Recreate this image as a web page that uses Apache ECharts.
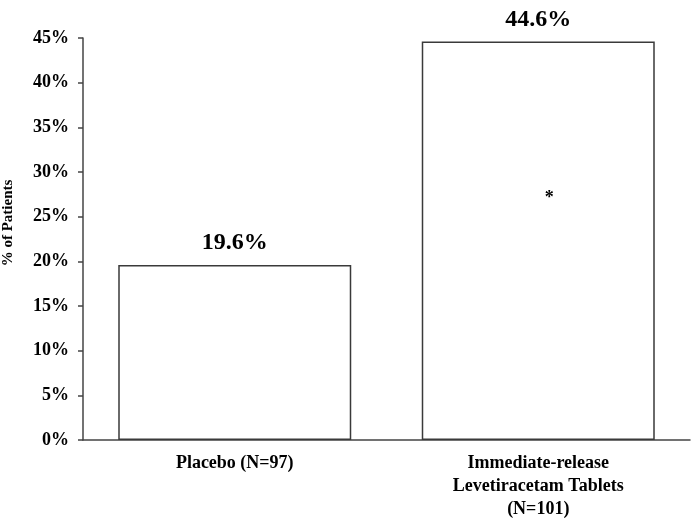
<!DOCTYPE html>
<html><head><meta charset="utf-8">
<script src="https://cdn.jsdelivr.net/npm/echarts@6/dist/echarts.min.js"></script>
<style>html,body{margin:0;padding:0;background:#fff}#c{width:695px;height:520px}</style>
</head><body><div id="c"></div>
<script>
const categories = ['Placebo (N=97)', 'Immediate-release\nLevetiracetam Tablets\n(N=101)'];
const values = [19.6, 44.6];
const yTicks = [0, 5, 10, 15, 20, 25, 30, 35, 40, 45];
const asterisk = { category: categories[1], value: 27.4, text: '*' };

const serif = '"Liberation Serif", "DejaVu Serif", serif';
const chart = echarts.init(document.getElementById('c'));
chart.setOption({
  backgroundColor: '#fff',
  animation: false,
  grid: { left: 83, right: 5, top: 38, bottom: 80, containLabel: false, outerBoundsMode: 'none' },
  xAxis: {
    type: 'category',
    data: categories,
    axisLine: { lineStyle: { color: '#444', width: 1.5 } },
    axisTick: { show: false },
    axisLabel: { fontFamily: serif, fontWeight: 'bold', fontSize: 18, color: '#000', lineHeight: 23, margin: 12, interval: 0 }
  },
  yAxis: {
    type: 'value',
    min: yTicks[0], max: yTicks[yTicks.length - 1], interval: 5,
    name: '% of Patients',
    nameLocation: 'middle',
    nameRotate: 90,
    nameGap: 67,
    nameTextStyle: { fontFamily: serif, fontWeight: 'bold', fontSize: 15, color: '#000', padding: [0, 0, 0, 32] },
    axisLine: { show: true, lineStyle: { color: '#444', width: 1.5 } },
    axisTick: { show: true, length: 5, lineStyle: { color: '#444', width: 1.5 } },
    splitLine: { show: false },
    axisLabel: { fontFamily: serif, fontWeight: 'bold', fontSize: 18, color: '#000', margin: 14, formatter: v => v + '%' }
  },
  series: [{
    type: 'bar',
    data: values,
    barWidth: 233,
    itemStyle: { color: '#fff', borderColor: '#3a3a3a', borderWidth: 1.5 },
    label: { show: true, position: 'top', distance: 10, fontFamily: serif, fontWeight: 'bold', fontSize: 24, color: '#000', formatter: p => p.value.toFixed(1) + '%' },
    markPoint: {
      symbol: 'circle',
      symbolSize: 1,
      itemStyle: { color: 'rgba(0,0,0,0)' },
      data: [{ coord: [asterisk.category, asterisk.value], label: { show: true, position: 'inside', offset: [11, 3], formatter: asterisk.text, fontFamily: serif, fontWeight: 'bold', fontSize: 18, color: '#000' } }]
    }
  }]
});
</script></body></html>
